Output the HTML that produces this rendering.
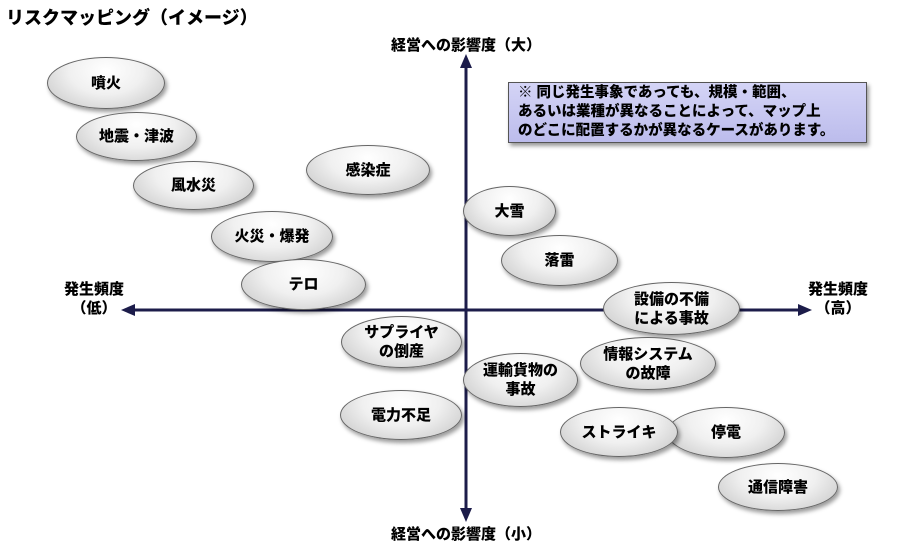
<!DOCTYPE html>
<html><head><meta charset="utf-8"><style>
body{margin:0;width:901px;height:559px;background:#fff;position:relative;overflow:hidden;font-family:"Liberation Sans","Noto Sans CJK JP",sans-serif;}
.e{position:absolute;border-radius:50%;border:1.5px solid #666;background:radial-gradient(ellipse at 50% 25%,#ffffff 0%,#f0f0f0 45%,#d0d0d0 85%,#bfbfbf 100%);box-shadow:2px 3px 4px rgba(0,0,0,0.4);display:flex;align-items:center;justify-content:center;text-align:center;font-weight:900;font-size:15px;line-height:19px;color:#000;box-sizing:border-box;}
.t{position:absolute;font-weight:900;font-size:15px;color:#000;text-align:center;line-height:19px;}
</style></head><body>
<div class="t" style="left:6px;top:7px;font-size:18px;line-height:22px;text-align:left;">リスクマッピング（イメージ）</div>
<svg width="901" height="559" style="position:absolute;left:0;top:0">
<line x1="466" y1="66" x2="466" y2="510" stroke="#1c1c4a" stroke-width="3"/>
<polygon points="466,54 460,68 472,68" fill="#1c1c4a"/>
<polygon points="466,522 460,508 472,508" fill="#1c1c4a"/>
<line x1="133" y1="310" x2="800" y2="310" stroke="#1c1c4a" stroke-width="3"/>
<polygon points="121,310 135,304 135,316" fill="#1c1c4a"/>
<polygon points="812,310 798,304 798,316" fill="#1c1c4a"/>
</svg>
<div class="t" style="left:350px;top:36px;width:232px;">経営への影響度（大）</div>
<div class="t" style="left:350px;top:525px;width:232px;">経営への影響度（小）</div>
<div class="t" style="left:44px;top:280px;width:100px;">発生頻度<br>（低）</div>
<div class="t" style="left:788px;top:280px;width:100px;">発生頻度<br>（高）</div>
<div style="position:absolute;left:508px;top:82px;width:359px;height:61px;box-sizing:border-box;border:1.5px solid #555;background:linear-gradient(#d4d4f6,#bcbcec);box-shadow:2px 3px 4px rgba(0,0,0,0.4);font-weight:900;font-size:14.5px;line-height:19px;padding:1px 0 0 9px;color:#000;white-space:nowrap;">※ 同じ発生事象であっても、規模・範囲、<br>あるいは業種が異なることによって、マップ上<br>のどこに配置するかが異なるケースがあります。</div>
<div class="e" style="left:47px;top:57px;width:118px;height:52px;">噴火</div>
<div class="e" style="left:76px;top:112px;width:121px;height:49px;">地震・津波</div>
<div class="e" style="left:133px;top:161px;width:121px;height:49px;">風水災</div>
<div class="e" style="left:306px;top:145px;width:124px;height:50px;">感染症</div>
<div class="e" style="left:211px;top:211px;width:122px;height:51px;">火災・爆発</div>
<div class="e" style="left:241px;top:259px;width:125px;height:51px;">テロ</div>
<div class="e" style="left:463px;top:186px;width:93px;height:50px;">大雪</div>
<div class="e" style="left:501px;top:235px;width:117px;height:51px;">落雷</div>
<div class="e" style="left:603px;top:282px;width:137px;height:53px;">設備の不備<br>による事故</div>
<div class="e" style="left:341px;top:316px;width:121px;height:52px;">サプライヤ<br>の倒産</div>
<div class="e" style="left:580px;top:337px;width:136px;height:53px;">情報システム<br>の故障</div>
<div class="e" style="left:463px;top:353px;width:115px;height:54px;">運輸貨物の<br>事故</div>
<div class="e" style="left:340px;top:390px;width:122px;height:50px;">電力不足</div>
<div class="e" style="left:667px;top:407px;width:118px;height:51px;">停電</div>
<div class="e" style="left:560px;top:407px;width:118px;height:50px;">ストライキ</div>
<div class="e" style="left:718px;top:463px;width:120px;height:48px;">通信障害</div>
</body></html>
